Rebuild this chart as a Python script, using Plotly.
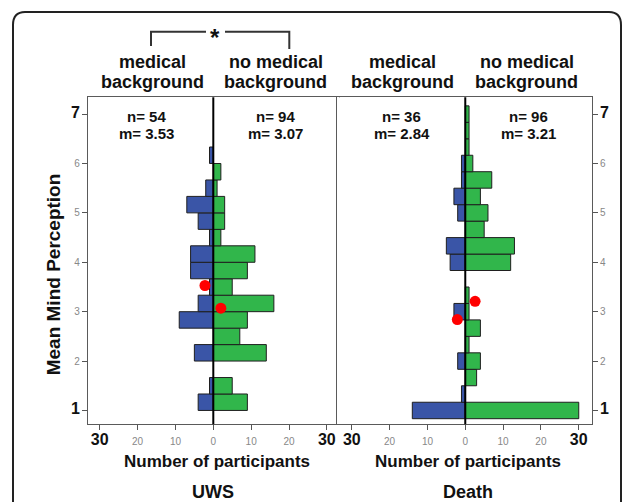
import plotly.graph_objects as go

# ---- data -------------------------------------------------------------
# UWS panel: histogram bins of width 1/3, bin centres
uws_bins = [1.167, 1.5, 1.833, 2.167, 2.5, 2.833, 3.167, 3.5,
            3.833, 4.167, 4.5, 4.833, 5.167, 5.5, 5.833, 6.167]
uws_medical = [4, 1, 0, 5, 0, 9, 4, 1, 6, 6, 1, 4, 7, 2, 0, 1]
uws_nonmedical = [9, 5, 0, 14, 7, 9, 16, 5, 9, 11, 2, 3, 3, 1, 2, 0]

# Death panel: bins of width 1/3 centred on the scale points
death_bins = [1.0, 1.333, 1.667, 2.0, 2.333, 2.667, 3.0, 3.333, 3.667, 4.0,
              4.333, 4.667, 5.0, 5.333, 5.667, 6.0, 6.333, 6.667, 7.0]
death_medical = [14, 1, 0, 2, 0, 0, 3, 0, 0, 4, 5, 0, 2, 3, 1, 1, 0, 0, 0]
death_nonmedical = [30, 0, 3, 4, 1, 4, 1, 1, 0, 12, 13, 5, 6, 4, 7, 2, 1, 1, 1]

# group sizes and means
uws_n = [54, 94]
uws_m = [3.53, 3.07]
death_n = [36, 96]
death_m = [2.84, 3.21]

x_ticks = [-30, -20, -10, 0, 10, 20, 30]
x_tick_labels = ["30", "20", "10", "0", "10", "20", "30"]
y_ticks = [1, 2, 3, 4, 5, 6, 7]
y_tick_labels = ["1", "2", "3", "4", "5", "6", "7"]

group_labels = [["medical", "background"], ["no medical", "background"]]
panel_names = ["UWS", "Death"]

# ---- styling ------------------------------------------------------------
W, H = 634, 502
FONT = "Liberation Sans, Arial, Helvetica, sans-serif"
BLUE = "#3a55a7"
GREEN = "#31b64b"
EDGE = "#1f1f1f"
FRAME = "#5a5a5a"


def px(x):
    return x / W


def py(y):
    return 1 - y / H


def big_small(labels, big):
    out = []
    for lab in labels:
        if lab in big:
            out.append("<b><span style='font-size:16px;fill:#111'>%s</span></b>" % lab)
        else:
            out.append(lab)
    return out


fig = go.Figure()


def add_panel(bins, left_counts, right_counts, means, xa, ya, dot_dx):
    lb = [b for b, c in zip(bins, left_counts) if c > 0]
    lc = [-c for c in left_counts if c > 0]
    rb = [b for b, c in zip(bins, right_counts) if c > 0]
    rc = [c for c in right_counts if c > 0]
    fig.add_trace(go.Bar(y=lb, x=lc, orientation="h", width=1 / 3,
                         marker=dict(color=BLUE, line=dict(color=EDGE, width=1)),
                         xaxis=xa, yaxis=ya, hoverinfo="x+y"))
    fig.add_trace(go.Bar(y=rb, x=rc, orientation="h", width=1 / 3,
                         marker=dict(color=GREEN, line=dict(color=EDGE, width=1)),
                         xaxis=xa, yaxis=ya, hoverinfo="x+y"))
    fig.add_trace(go.Scatter(x=dot_dx, y=means, mode="markers",
                             marker=dict(color="#ff0000", size=11),
                             xaxis=xa, yaxis=ya, hoverinfo="y"))


add_panel(uws_bins, uws_medical, uws_nonmedical, uws_m, "x", "y", [-2.2, 2.0])
add_panel(death_bins, death_medical, death_nonmedical, death_m, "x2", "y2", [-2.1, 2.6])

axis_common = dict(showgrid=False, zeroline=False, showline=True, linecolor=FRAME,
                   linewidth=1.2, mirror=True, ticks="outside", ticklen=5,
                   tickwidth=1, tickcolor="#555", fixedrange=True)

xt = big_small(x_tick_labels, {"30"})
yt = big_small(y_tick_labels, {"1", "7"})
ydom = [py(424.3), py(97.3)]
yrange = [0.72, 7.34]

fig.update_layout(
    width=W, height=H,
    margin=dict(l=0, r=0, t=0, b=0),
    paper_bgcolor="white", plot_bgcolor="white",
    showlegend=False, barmode="overlay",
    font=dict(family=FONT, color="#111"),
    xaxis=dict(domain=[px(88), px(338.6)], range=[-33.1, 33.1], anchor="y",
               tickvals=x_ticks, ticktext=xt, ticklabelstandoff=3,
               tickfont=dict(size=10, color="#888"), **axis_common),
    yaxis=dict(domain=ydom, range=yrange, anchor="x", side="left",
               tickvals=y_ticks, ticktext=yt,
               tickfont=dict(size=10, color="#888"), **axis_common),
    xaxis2=dict(domain=[px(337.4), px(592)], range=[-33.8, 33.5], anchor="y2",
                tickvals=x_ticks, ticktext=xt, ticklabelstandoff=3,
                tickfont=dict(size=10, color="#888"), **axis_common),
    yaxis2=dict(domain=ydom, range=yrange, anchor="x2", side="right",
                tickvals=y_ticks, ticktext=yt,
                tickfont=dict(size=10, color="#888"), **axis_common),
)

# zero lines drawn above the bars
for xr, yr in (("x", "y domain"), ("x2", "y2 domain")):
    fig.add_shape(type="line", xref=xr, yref=yr, x0=0, x1=0, y0=0, y1=1,
                  line=dict(color="black", width=2), layer="above")

# outer rounded frame
frame_path = ("M {a},{b} L {a},{c} Q {a},{d} {e},{d} L {f},{d} Q {g},{d} {g},{c} L {g},{b}"
              .format(a=px(13), b=py(520), c=py(25), d=py(12), e=px(25), f=px(609), g=px(621)))
fig.add_shape(type="path", xref="paper", yref="paper", path=frame_path,
              line=dict(color="#222", width=2))

# significance bracket between the UWS groups
fig.add_shape(type="path", xref="paper", yref="paper",
              path="M {0},{1} L {0},{2} L {3},{2}".format(px(151), py(46), py(31.7), px(206)),
              line=dict(color="#333", width=2))
fig.add_shape(type="path", xref="paper", yref="paper",
              path="M {0},{1} L {2},{1} L {2},{3}".format(px(225), py(31.7), px(289.3), py(49)),
              line=dict(color="#333", width=2))


def label(text, x, y, size, angle=0, color="#111"):
    fig.add_annotation(text=text, x=px(x), y=py(y), xref="paper", yref="paper",
                       showarrow=False, xanchor="center", yanchor="middle",
                       textangle=angle, font=dict(family=FONT, size=size, color=color))


label("<b>*</b>", 215.3, 37, 24)

# group headings
header_x = [152, 275.5, 402, 526.5]
for i, hx in enumerate(header_x):
    lines = group_labels[i % 2]
    label("<b>%s</b>" % lines[0], hx, 61.7, 18)
    label("<b>%s</b>" % lines[1], hx, 81.7, 18)

# n / mean labels
nm_x = [146.7, 275, 401.7, 528.3]
ns = uws_n + death_n
ms = uws_m + death_m
for hx, n, m in zip(nm_x, ns, ms):
    label("<b>n= %d</b>" % n, hx, 116.7, 15)
    label("<b>m= %.2f</b>" % m, hx, 133.3, 15)

# axis titles and panel names
label("<b>Mean Mind Perception</b>", 53.3, 274, 19, angle=-90)
for cx, name in zip([216.7, 468], panel_names):
    label("<b>Number of participants</b>", cx, 461.7, 17)
    label("<b>%s</b>" % name, cx - 4 if name == "UWS" else cx, 491.7, 18)

fig.write_html("out.html")
